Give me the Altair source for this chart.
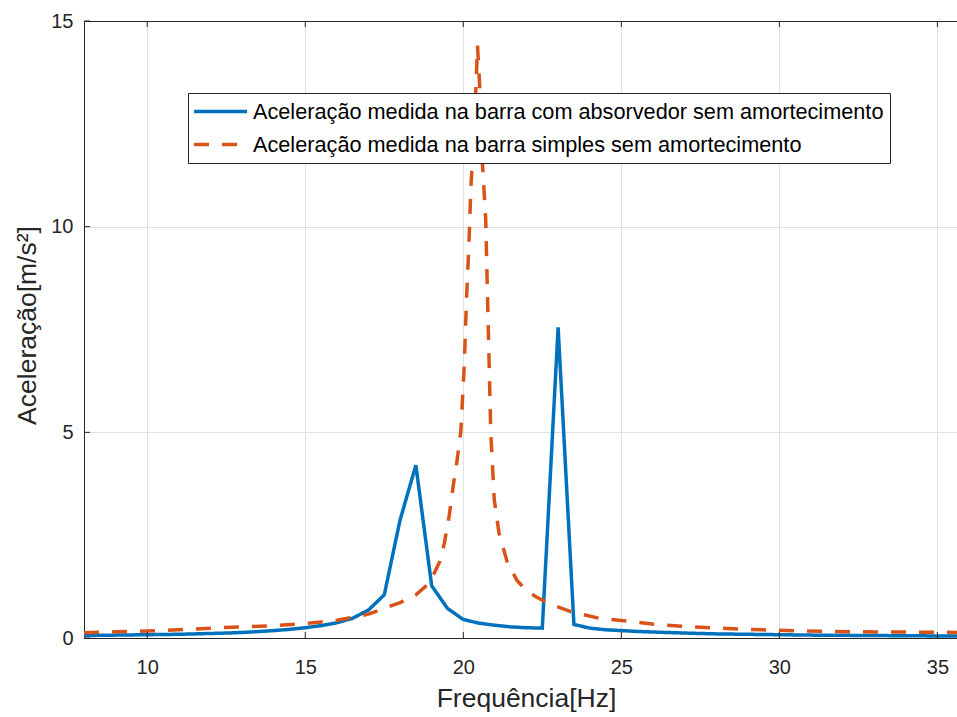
import altair as alt
import pandas as pd

# ---- data ----
blue_freq = [8.0, 8.5, 9.0, 9.5, 10.0, 10.5, 11.0, 11.5, 12.0, 12.5, 13.0, 13.5, 14.0, 14.5,
             15.0, 15.5, 16.0, 16.5, 17.0, 17.5, 18.0, 18.5, 19.0, 19.5, 20.0, 20.5, 21.0,
             21.5, 22.0, 22.5, 23.0, 23.5, 24.0, 24.5, 25.0, 25.5, 26.0, 27.0, 28.0, 29.0,
             30.0, 31.0, 32.0, 33.0, 34.0, 35.0, 36.0]
blue_acc = [0.06, 0.065, 0.07, 0.075, 0.08, 0.085, 0.09, 0.10, 0.11, 0.12, 0.135, 0.155, 0.18, 0.21,
            0.25, 0.30, 0.37, 0.48, 0.68, 1.05, 2.87, 4.2, 1.27, 0.72, 0.45, 0.36, 0.31,
            0.27, 0.25, 0.24, 7.55, 0.33, 0.24, 0.20, 0.18, 0.16, 0.145, 0.12, 0.10, 0.09,
            0.08, 0.07, 0.065, 0.06, 0.055, 0.05, 0.05]

orange_freq = [8.0, 9.0, 10.0, 11.0, 12.0, 13.0, 14.0, 15.0, 15.5, 16.0, 16.5, 17.0, 17.5,
               18.0, 18.5, 18.8, 19.0, 19.25, 19.4, 19.55, 19.7, 19.8, 19.92, 20.03, 20.1,
               20.18, 20.24, 20.29, 20.38, 20.45, 20.52, 20.6, 20.71, 20.76, 20.82, 20.87,
               20.98, 21.13, 21.4, 21.7, 21.98, 22.3, 22.7, 23.4, 24.3, 25.3, 26.2, 27.2,
               28.1, 29.0, 29.9, 30.8, 31.8, 32.6, 33.5, 34.5, 36.0]
orange_acc = [0.13, 0.15, 0.17, 0.20, 0.24, 0.27, 0.30, 0.35, 0.39, 0.43, 0.50, 0.58, 0.72,
              0.86, 1.05, 1.25, 1.45, 1.85, 2.3, 2.95, 3.8, 4.3, 5.0, 6.6, 8.2,
              9.6, 10.97, 11.62, 13.0, 14.4, 13.4, 11.62, 10.16, 8.5, 6.6, 4.98,
              3.36, 2.55, 1.82, 1.4, 1.17, 1.0, 0.84, 0.64, 0.48, 0.40, 0.32, 0.27,
              0.24, 0.21, 0.19, 0.17, 0.16, 0.15, 0.146, 0.14, 0.135]

series_names = ["Aceleração medida na barra com absorvedor sem amortecimento",
                "Aceleração medida na barra simples sem amortecimento"]
x_ticks = [10, 15, 20, 25, 30, 35]
y_ticks = [0, 5, 10, 15]

df = pd.concat([
    pd.DataFrame({"freq": blue_freq, "acc": blue_acc, "serie": series_names[0]}),
    pd.DataFrame({"freq": orange_freq, "acc": orange_acc, "serie": series_names[1]}),
], ignore_index=True)

W, H = 873, 617
FONT = "Liberation Sans"
AX = "#262626"
xscale = alt.Scale(domain=[8, 35.62], nice=False, zero=False)
yscale = alt.Scale(domain=[0, 15], nice=False, zero=False)

legend = alt.Legend(
    title=None, orient="none", legendX=104, legendY=72,
    symbolType="M-2.5,0L2.5,0", symbolSize=449, symbolStrokeWidth=3.5,
    symbolOffset=14, labelOffset=20, labelFontSize=21.7, labelFont=FONT,
    labelColor="black", labelLimit=900, padding=6, rowPadding=8,
    strokeColor=AX, fillColor="white",
)

lines = alt.Chart(df).mark_line(strokeWidth=3.5, clip=True).encode(
    x=alt.X("freq:Q", scale=xscale, axis=alt.Axis(
        values=x_ticks, title="Frequência[Hz]", grid=True, gridColor="#e0e0e0",
        ticks=False, tickSize=0, labelFontSize=20, labelPadding=19,
        titleFontSize=26.5, titleFontWeight="normal", titleX=442, titleY=68,
        titleBaseline="alphabetic", titleAlign="center",
        domainColor=AX, domainWidth=1)),
    y=alt.Y("acc:Q", scale=yscale, axis=alt.Axis(
        values=y_ticks, title="Aceleração[m/s²]", grid=True, gridColor="#e0e0e0",
        ticks=False, tickSize=0, labelFontSize=20, labelPadding=11,
        titleFontSize=26.5, titleFontWeight="normal", titleX=-49, titleY=304,
        titleAngle=270, titleBaseline="alphabetic", titleAlign="center",
        domainColor=AX, domainWidth=1)),
    color=alt.Color("serie:N", scale=alt.Scale(domain=series_names, range=["#0072BD", "#D95319"]),
                    legend=legend),
    strokeDash=alt.StrokeDash("serie:N", scale=alt.Scale(domain=series_names, range=[[1, 0], [15, 13]]),
                              legend=legend),
)

xt = pd.DataFrame({"t": x_ticks})
yt = pd.DataFrame({"v": y_ticks})

bottom_ticks = alt.Chart(xt).mark_rule(color=AX, strokeWidth=1).encode(
    x=alt.X("t:Q", scale=xscale, axis=None), y=alt.value(H), y2=alt.value(H - 6))
top_ticks = alt.Chart(xt).mark_rule(color=AX, strokeWidth=1).encode(
    x=alt.X("t:Q", scale=xscale, axis=alt.Axis(orient="top", labels=False, ticks=False, grid=False,
                                                 title=None, domainColor=AX, domainWidth=1)),
    y=alt.value(0), y2=alt.value(6))
left_ticks = alt.Chart(yt).mark_rule(color=AX, strokeWidth=1).encode(
    y=alt.Y("v:Q", scale=yscale, axis=None), x=alt.value(0), x2=alt.value(6))

chart = alt.layer(lines, bottom_ticks, top_ticks, left_ticks).resolve_axis(
    x="independent", y="independent"
).properties(
    width=W, height=H,
    autosize=alt.AutoSizeParams(type="none"),
    padding={"left": 84, "top": 21, "right": 0, "bottom": 79},
    background="white",
).configure_view(stroke=None).configure_axis(
    labelFont=FONT, titleFont=FONT, labelColor=AX, titleColor=AX
)

chart.save("out.html", embed_options={"renderer": "svg", "actions": False})
